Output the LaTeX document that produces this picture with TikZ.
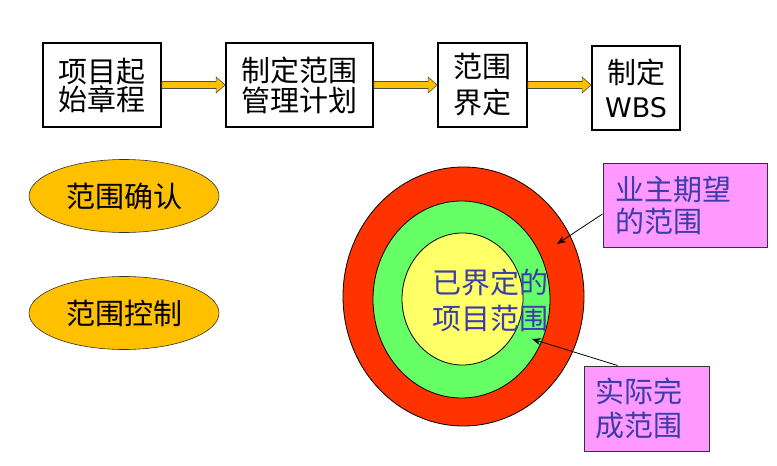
\documentclass[tikz,border=0pt]{standalone}
\usepackage{fontspec}
\newfontfamily\cjk{Noto Sans CJK SC}
\newfontfamily\vsans{DejaVu Sans}
\usetikzlibrary{shapes.geometric,arrows.meta,calc}
\definecolor{arrowor}{RGB}{255,192,0}
\definecolor{ellor}{RGB}{255,192,0}
\definecolor{ringred}{RGB}{255,51,0}
\definecolor{ringgreen}{RGB}{102,255,102}
\definecolor{ringyellow}{RGB}{255,255,102}
\definecolor{pinkbox}{RGB}{255,153,255}
\definecolor{bluetxt}{RGB}{60,60,170}
\newcommand{\fatarr}[2]{%
  \draw[fatarrow] ($(#1.east)+(0,-3.5)$) -- ($(#2.west|-#1.east)+(-9,-3.5)$)
    -- ($(#2.west|-#1.east)+(-9,-8)$) -- (#2.west|-#1.east)
    -- ($(#2.west|-#1.east)+(-9,8)$) -- ($(#2.west|-#1.east)+(-9,3.5)$)
    -- ($(#1.east)+(0,3.5)$) -- cycle;}
\begin{document}
\begin{tikzpicture}[x=1pt,y=-1pt,
  flowbox/.style={draw=black, line width=1.8pt, fill=white, inner sep=0pt, align=center, text=black},
  fatarrow/.style={fill=arrowor, draw=black!70, line width=0.6pt, line join=miter},
  ovalbox/.style={ellipse, draw=black!80, line width=0.6pt, fill=ellor, inner sep=0pt,
    minimum width=190pt, minimum height=73pt, font=\cjk\fontsize{29}{30}\selectfont},
  ring/.style={ellipse, draw=black, line width=0.8pt, inner sep=0pt},
  notebox/.style={draw=black!80, line width=1pt, fill=pinkbox, inner sep=0pt, align=left, text=bluetxt},
  ptr/.style={draw=black, line width=0.8pt, -{Stealth[length=9pt,width=7pt]}}
]
\useasboundingbox (0,0) rectangle (777,466);
% top flow
\node[flowbox, minimum width=118pt, minimum height=84pt, font=\cjk\fontsize{29}{28}\selectfont] (b1) at (102,85) {项目起\\始章程};
\node[flowbox, minimum width=147pt, minimum height=84pt, font=\cjk\fontsize{29}{30}\selectfont] (b2) at (299.5,85) {制定范围\\管理计划};
\node[flowbox, minimum width=89pt, minimum height=84pt, font=\cjk\fontsize{29}{36}\selectfont] (b3) at (482.5,85) {范围\\界定};
\node[flowbox, minimum width=88pt, minimum height=84pt, font=\cjk\fontsize{29}{34}\selectfont] (b4) at (636,88) {制定\\{\vsans\fontsize{27}{34}\selectfont WBS}};
\fatarr{b1}{b2}
\fatarr{b2}{b3}
\fatarr{b3}{b4}
% ovals
\node[ovalbox] (o1) at (124,196) {范围确认};
\node[ovalbox] (o2) at (124,313) {范围控制};
% rings
\node[ring, fill=ringred, minimum width=241pt, minimum height=259pt] (outer) at (463.5,296.5) {};
\node[ring, fill=ringgreen, minimum width=177pt, minimum height=197pt] (mid) at (461.5,299.5) {};
\node[ring, fill=ringyellow, minimum width=121pt, minimum height=132pt] (inner) at (462.5,299) {};
\node[text=bluetxt, align=center, inner sep=0pt, font=\cjk\fontsize{29}{36}\selectfont] (lbl) at (490,300) {已界定的\\项目范围};
% note boxes
\node[notebox, minimum width=164pt, minimum height=84pt, text width=140pt, font=\cjk\fontsize{29}{32}\selectfont] (pA) at (685,205) {业主期望\\的范围};
\node[notebox, minimum width=125pt, minimum height=85pt, text width=103pt, font=\cjk\fontsize{29}{34}\selectfont] (pB) at (646.5,408.5) {实际完\\成范围};
\coordinate (tA) at (557,244);
\coordinate (tB) at (532,339);
\draw[ptr] ($(pA.west)+(0,9)$) -- (tA);
\draw[ptr] ($(pB.north west)+(34,0)$) -- (tB);
\end{tikzpicture}
\end{document}
